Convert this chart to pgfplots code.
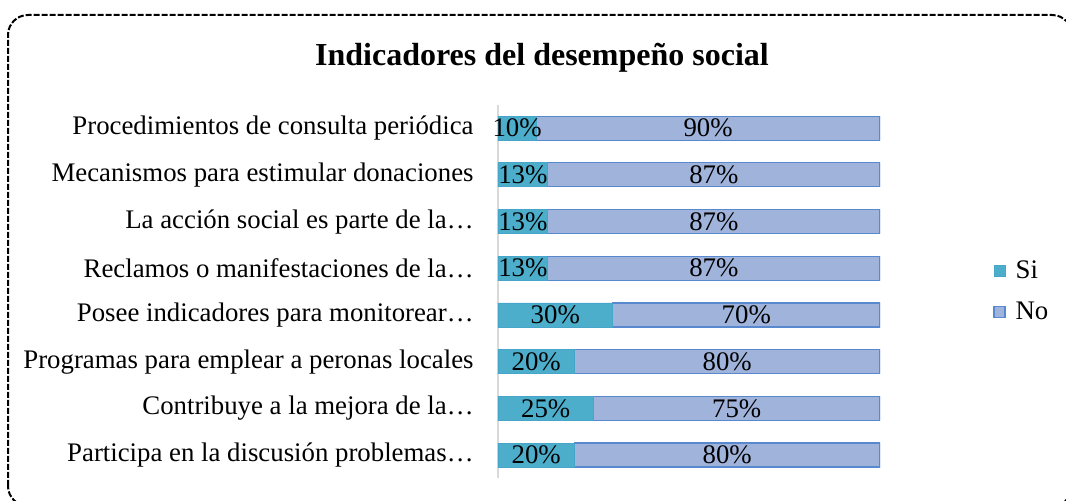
\documentclass[border=0pt]{standalone}
\usepackage{fontspec}
\setmainfont{Liberation Serif}
\usepackage{pgfplots}
\usepackage{pgfplotstable}
\pgfplotsset{compat=1.18}
\definecolor{sifill}{RGB}{76,174,203}
\definecolor{siedge}{RGB}{70,165,200}
\definecolor{nofill}{RGB}{160,179,219}
\definecolor{noedge}{RGB}{88,136,206}
\definecolor{axisgray}{RGB}{217,217,217}

% y = 0 is the bottom category
\pgfplotstableread{
y si no
0 20 80
1 25 75
2 20 80
3 30 70
4 13 87
5 13 87
6 13 87
7 10 90
}\datatable

\begin{document}
\begin{tikzpicture}
\useasboundingbox (0,0) rectangle (533pt,-250.5pt);
\draw[line width=1pt, dash pattern=on 3pt off 1pt, rounded corners=10pt]
  (4pt,-253pt) rectangle (536pt,-7.5pt);
\node[anchor=base, font=\fontsize{16}{19}\selectfont\bfseries]
  at (271pt,-33pt) {Indicadores del desempeño social};
\begin{axis}[
  at={(249pt,-239.2pt)}, anchor=south west,
  scale only axis, width=191pt, height=186.8pt,
  xbar stacked, bar width=12pt,
  xmin=0, xmax=100, ymin=-0.5, ymax=7.5,
  axis x line=none,
  axis y line*=left,
  y axis line style={draw=axisgray, line width=1pt, -},
  ytick={0,...,7},
  yticklabels={Participa en la discusión problemas…,
    Contribuye a la mejora de la…,
    Programas para emplear a peronas locales,
    Posee indicadores para monitorear…,
    Reclamos o manifestaciones de la…,
    La acción social es parte de la…,
    Mecanismos para estimular donaciones,
    Procedimientos de consulta periódica},
  major tick length=0pt,
  y tick label style={font=\fontsize{13.4}{15}\selectfont, inner sep=0pt, xshift=-12pt},
  /pgf/number format/assume math mode=true,
  nodes near coords={\pgfmathprintnumber{\pgfplotspointmeta}\%},
  every node near coord/.append style={font=\fontsize{13.4}{15}\selectfont,
    text=black, anchor=center, inner sep=0pt},
  legend style={at={(axis description cs:1,0.5)}, anchor=west, xshift=53.5pt,
    draw=none, fill=none, font=\fontsize{13.4}{15}\selectfont, row sep=6pt,
    nodes={inner xsep=5pt}},
  legend cell align=left,
  legend image code/.code={\draw[#1] (0pt,-2.75pt) rectangle (5.5pt,2.75pt);},
]
\addplot[fill=sifill, draw=siedge, line width=0.4pt]
  table[x=si, y=y] {\datatable};
\addlegendentry{Si}
\addplot[fill=nofill, draw=noedge, line width=0.6pt]
  table[x=no, y=y] {\datatable};
\addlegendentry{No}
\end{axis}
\end{tikzpicture}
\end{document}
